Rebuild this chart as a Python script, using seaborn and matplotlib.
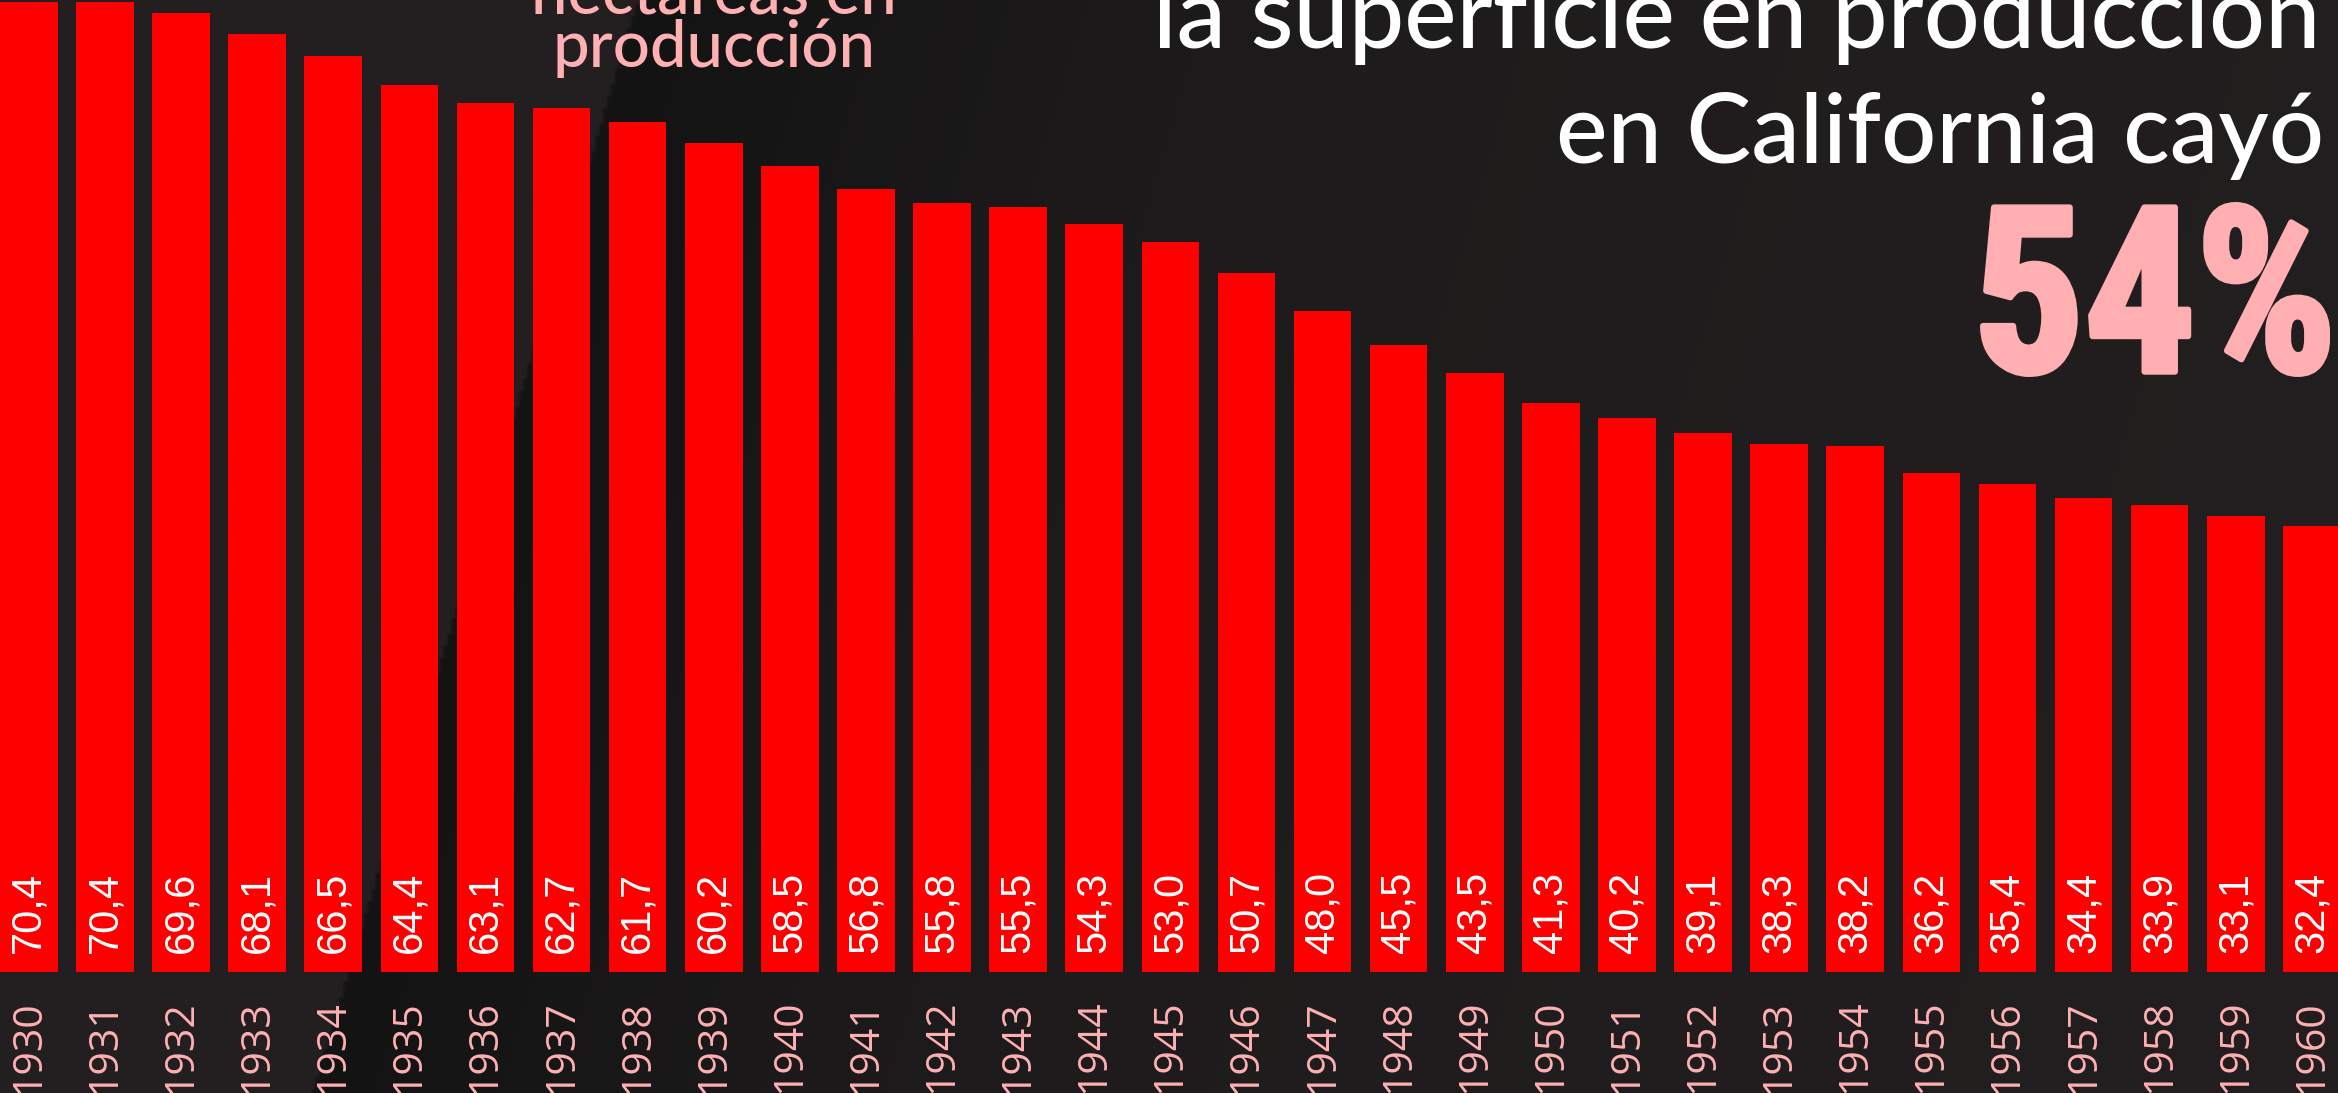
import numpy as np
import pandas as pd
import matplotlib
matplotlib.use("Agg")
import matplotlib.pyplot as plt
import seaborn as sns
from matplotlib import font_manager
from matplotlib.textpath import TextPath
from matplotlib.patches import PathPatch
from matplotlib.transforms import Affine2D

# data (thousand hectares in production)
years = list(range(1930, 1961))
hectares = [70.4, 70.4, 69.6, 68.1, 66.5, 64.4, 63.1, 62.7, 61.7, 60.2,
            58.5, 56.8, 55.8, 55.5, 54.3, 53.0, 50.7, 48.0, 45.5, 43.5,
            41.3, 40.2, 39.1, 38.3, 38.2, 36.2, 35.4, 34.4, 33.9, 33.1, 32.4]
subtitle_lines = ["hectáreas en", "producción"]
title_lines = ["la superficie en producción", "en California cayó"]
headline = "54%"

W, H = 2338, 1093
BG = np.array([0x23, 0x1f, 0x20]) / 255
DARK = np.array([0x13, 0x13, 0x13]) / 255
RED = "#ff0000"
PINK = "#ffb0b3"
HEAD_PINK = "#ffaeb1"

sns.set_style("dark")
plt.rcParams["font.family"] = ["Liberation Sans", "DejaVu Sans"]


def pick_font(names):
    for n in names:
        try:
            font_manager.findfont(font_manager.FontProperties(family=n),
                                  fallback_to_default=False)
            return n
        except Exception:
            continue
    return "DejaVu Sans"


fig = plt.figure(figsize=(W / 100, H / 100), dpi=100)

# background with the dark diagonal band
bg_ax = fig.add_axes([0, 0, 1, 1], zorder=-5)
gy, gx = np.mgrid[0:H:4, 0:W:4]
edge = 636 - 0.297 * gy
u = gx - edge
dark = np.where(u > 0, np.exp(-u / 650.0), 0.0)
img = BG[None, None, :] + (DARK - BG)[None, None, :] * dark[..., None]
bg_ax.imshow(img, extent=(0, W, H, 0), aspect="auto", interpolation="bilinear")
bg_ax.set_axis_off()

# bars
base_y = 972
ax = fig.add_axes([0, (H - base_y) / H, 1, base_y / H])
ax.set_facecolor("none")
df = pd.DataFrame({"year": [str(y) for y in years], "ha": hectares})
bw = 0.757
sns.barplot(data=df, x="year", y="ha", color=RED, saturation=1, width=bw,
            ax=ax, edgecolor="none")
ax.set_ylim(0, 70.55)
ax.set_xlim(-bw / 2, -bw / 2 + W / 76.1)
ax.set_xlabel("")
ax.set_ylabel("")
ax.set_yticks([])
ax.set_xticks([])
for s in ax.spines.values():
    s.set_visible(False)
ax.grid(False)

for i, (yr, v) in enumerate(zip(years, hectares)):
    ax.annotate(f"{v:.1f}".replace(".", ","), (i, 0), xytext=(0, 13.5),
                textcoords="offset points", rotation=90, ha="center",
                va="bottom", color="white", fontsize=30,
                family=["Liberation Sans", "DejaVu Sans"])
    # year under the bar
    ax.annotate(str(yr), (i, 0), xytext=(0, -20), annotation_clip=False,
                textcoords="offset points", rotation=90, ha="center",
                va="top", color=PINK, fontsize=29.5,
                family=["Open Sans", "DejaVu Sans"])

# texts placed in pixel positions of the reference


def fx(x):
    return x / W


def fy(y):
    return 1 - y / H


title_font = ["Lato", "DejaVu Sans"]
fig.text(fx(714), fy(14), subtitle_lines[0], ha="center", va="baseline",
         color=PINK, fontsize=47, family=title_font, weight="medium")
fig.text(fx(714), fy(67), subtitle_lines[1], ha="center", va="baseline",
         color=PINK, fontsize=47, family=title_font, weight="medium")
fig.text(fx(2320), fy(48), title_lines[0], ha="right", va="baseline",
         color="white", fontsize=71, family=title_font, weight="medium")
fig.text(fx(2324), fy(163), title_lines[1], ha="right", va="baseline",
         color="white", fontsize=70, family=title_font, weight="medium")

# condensed headline number, fitted to its box (edge stroke thickens it)
narrow = pick_font(["Liberation Sans Narrow", "Roboto Condensed",
                    "DejaVu Sans Condensed", "Liberation Sans"])
tp = TextPath((0, 0), headline, size=100,
              prop=font_manager.FontProperties(family=narrow, weight="bold"))
bb = tp.get_extents()
stroke = 3
x0, x1, ytop, ybot = 1980 + stroke, 2330 - stroke, 202 + stroke, 377 - stroke
tr = (Affine2D().translate(-bb.x0, -bb.y0)
      .scale((x1 - x0) / bb.width, (ybot - ytop) / bb.height)
      .translate(x0, H - ybot))
fig.add_artist(PathPatch(tp, transform=tr, facecolor=HEAD_PINK,
                         edgecolor=HEAD_PINK, linewidth=stroke * 2 * 0.72,
                         joinstyle="round"))

fig.savefig("out.png", dpi=100, facecolor=BG)
